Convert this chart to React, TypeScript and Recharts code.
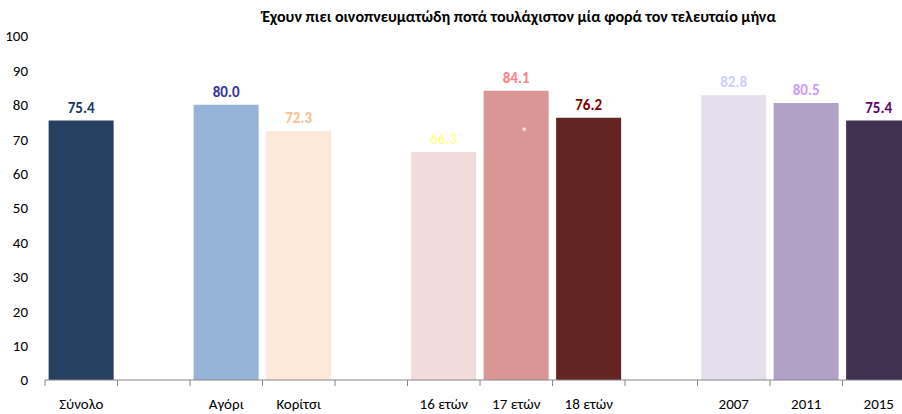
import React from "react";
import { BarChart, Bar, XAxis, YAxis, Cell, LabelList } from "recharts";

// categories incl. empty spacer slots between groups
const categories = ["Σύνολο", "", "Αγόρι", "Κορίτσι", "", "16 ετών", "17 ετών", "18 ετών", "", "2007", "2011", "2015"];
const values = [75.4, null, 80.0, 72.3, null, 66.3, 84.1, 76.2, null, 82.8, 80.5, 75.4];
const notes = ["", "", "", "", "", "", "*", "", "", "", "", ""];
const barColors = ["#254061", "", "#95B3D7", "#FDE9D9", "", "#F2DCDB", "#D99694", "#632523", "", "#E4DFEC", "#B1A0C7", "#403151"];
const labelColors = ["#17375E", "", "#3333A0", "#FAC090", "", "#FFFF99", "#FF8080", "#7F0000", "", "#CCCCFF", "#CC99FF", "#660066"];
const yTicks = [0, 10, 20, 30, 40, 50, 60, 70, 80, 90, 100];

const title = "Έχουν πιει οινοπνευματώδη ποτά τουλάχιστον μία φορά τον τελευταίο μήνα";

const data = categories.map((c, i) => ({
    name: c,
    value: values[i],
    note: notes[i],
    labelColor: labelColors[i],
}));

const FONT = "Carlito, 'Liberation Sans Narrow', 'Noto Sans', sans-serif";

const SLOT = 72.5;

const XTick = (props: any) => {
    const { x, y, payload } = props;
    const left = x - SLOT / 2;
    return (
        <g>
            <line x1={left} y1={y - 8} x2={left} y2={y - 2} stroke="#868686" />
            <text x={x} y={y + 21} textAnchor="middle" fontSize={15} fill="#000" fontFamily={FONT}>
                {payload.value}
            </text>
        </g>
    );
};

// value is the whole data entry (dataKey below returns it)
const ValueLabel = (props: any) => {
    const { x, y, width, value } = props;
    if (!value || value.value == null) return null;
    return (
        <text x={x + width / 2} y={y - 8} textAnchor="middle" fontSize={15} fontWeight="bold" fill={value.labelColor} fontFamily={FONT}>
            {value.value.toFixed(1)}
        </text>
    );
};

const NoteLabel = (props: any) => {
    const { x, y, width, value } = props;
    if (!value || !value.note) return null;
    return (
        <text x={x + width / 2 + 8} y={y + 46} textAnchor="middle" fontSize={14} fill="#FFFFFF" fontFamily={FONT}>
            {value.note}
        </text>
    );
};

export default function App() {
    return (
        <div style={{ position: "absolute", left: 0, top: 0, width: 902, height: 414, overflow: "hidden", background: "#fff" }}>
            <div style={{ position: "absolute", left: 0, width: 1038, top: 7, textAlign: "center", fontFamily: FONT, fontWeight: "bold", fontSize: 16, color: "#000" }}>
                {title}
            </div>
            <BarChart width={925} height={414} data={data} margin={{ top: 36, right: 10, left: 0, bottom: 0 }} barCategoryGap="5%">
                <XAxis dataKey="name" height={34} axisLine={{ stroke: "#868686" }} tickLine={false} tick={<XTick />} interval={0} />
                <YAxis width={45} domain={[0, 100]} ticks={yTicks} axisLine={false} tickLine={false} tick={{ fontSize: 15, fill: "#000", fontFamily: FONT }} tickMargin={11} />
                <Bar dataKey="value" isAnimationActive={false}>
                    {data.map((d, i) => (
                        <Cell key={i} fill={barColors[i] || "#fff"} />
                    ))}
                    <LabelList dataKey={(d: any) => d} content={<ValueLabel />} />
                    <LabelList dataKey={(d: any) => d} content={<NoteLabel />} />
                </Bar>
            </BarChart>
        </div>
    );
}
